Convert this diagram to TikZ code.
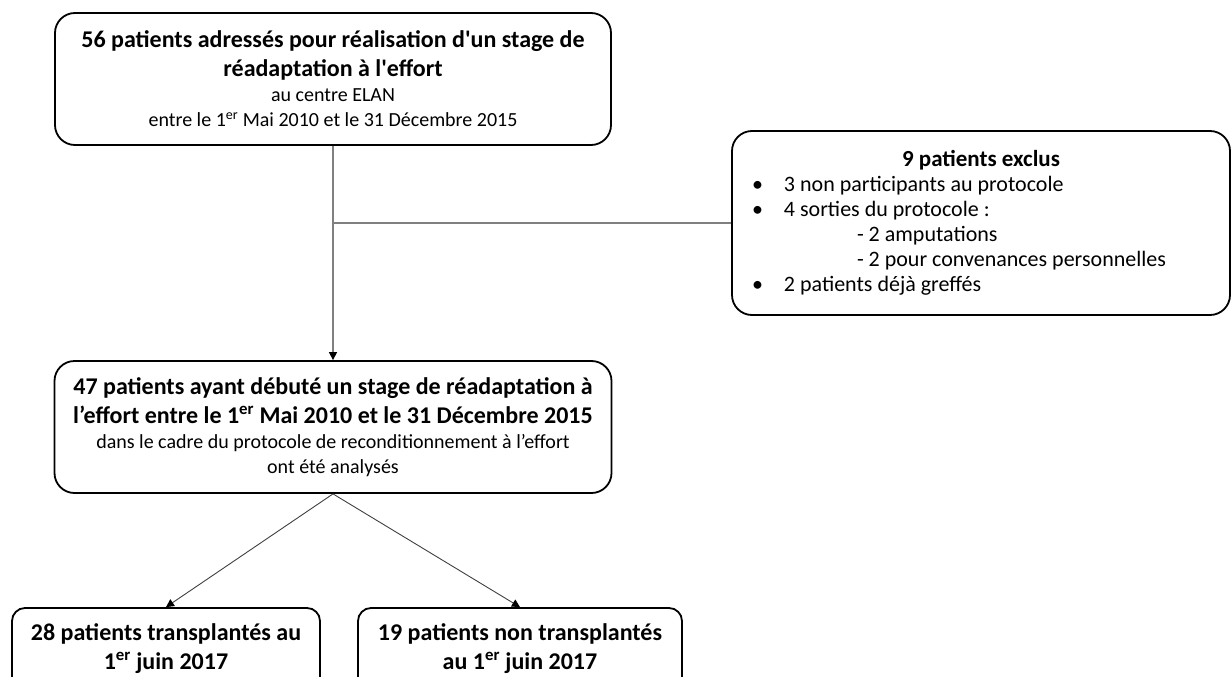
\documentclass[tikz,border=0pt]{standalone}
\usepackage{fontspec}
\setmainfont{Carlito}
\usepackage{tikz}
\usetikzlibrary{arrows.meta}
\newcommand{\hd}{\fontsize{24}{29}\selectfont\bfseries}

\begin{document}
\begin{tikzpicture}[x=1pt,y=-1pt,
  box/.style={draw,line width=1.8pt,rounded corners=20pt,align=center,inner sep=0pt,
    font=\fontsize{20}{25}\selectfont},
  link/.style={draw=black!50,line width=1.2pt},
  tip/.style={-{Triangle[length=8pt,width=8pt,color=black]}},
  split/.style={draw=black!75,line width=0.9pt,tip}]
\useasboundingbox (0,0) rectangle (1231,677);
\clip (0,0) rectangle (1231,677);
\node[box,minimum width=556pt,minimum height=132pt] (adr) at (333,79)
  {{\hd 56 patients adressés pour réalisation d\textquotesingle un stage de}\\[4pt]
   {\hd réadaptation à l\textquotesingle effort}\\
   au centre ELAN\\
   entre le 1\textsuperscript{er} Mai 2010 et le 31 Décembre 2015};
\node[box,minimum width=498pt,minimum height=184pt,align=flush left,text width=458pt,
  font=\fontsize{22}{25}\selectfont] (excl) at (981,223)
  {\makebox[458pt]{\fontsize{23}{25}\selectfont\bfseries 9 patients exclus}\\
   \makebox[32pt][l]{\textbullet}3 non participants au protocole\\
   \makebox[32pt][l]{\textbullet}4 sorties du protocole :\\
   \hspace*{105pt}- 2 amputations\\
   \hspace*{105pt}- 2 pour convenances personnelles\\
   \makebox[32pt][l]{\textbullet}2 patients déjà greffés};
\node[box,minimum width=557pt,minimum height=132pt] (debut) at (333,427)
  {{\hd 47 patients ayant débuté un stage de réadaptation à}\\[4pt]
   {\hd l’effort entre le 1\textsuperscript{er} Mai 2010 et le 31 Décembre 2015}\\
   dans le cadre du protocole de reconditionnement à l’effort\\
   ont été analysés};
\node[box,rounded corners=13pt,minimum width=308pt,minimum height=82pt] (greff) at (166,649)
  {{\hd 28 patients transplantés au}\\[4pt]{\hd 1\textsuperscript{er} juin 2017}};
\node[box,rounded corners=13pt,minimum width=324pt,minimum height=82pt] (attente) at (520,649)
  {{\hd 19 patients non transplantés}\\[4pt]{\hd au 1\textsuperscript{er} juin 2017}};
% flux
\draw[link,tip] (adr.south) -- (debut.north);
\draw[link] (excl.west) -- (excl.west -| adr.south);
\draw[split] (debut.south) -- (greff.north);
\draw[split] (debut.south) -- (attente.north);
\end{tikzpicture}
\end{document}
